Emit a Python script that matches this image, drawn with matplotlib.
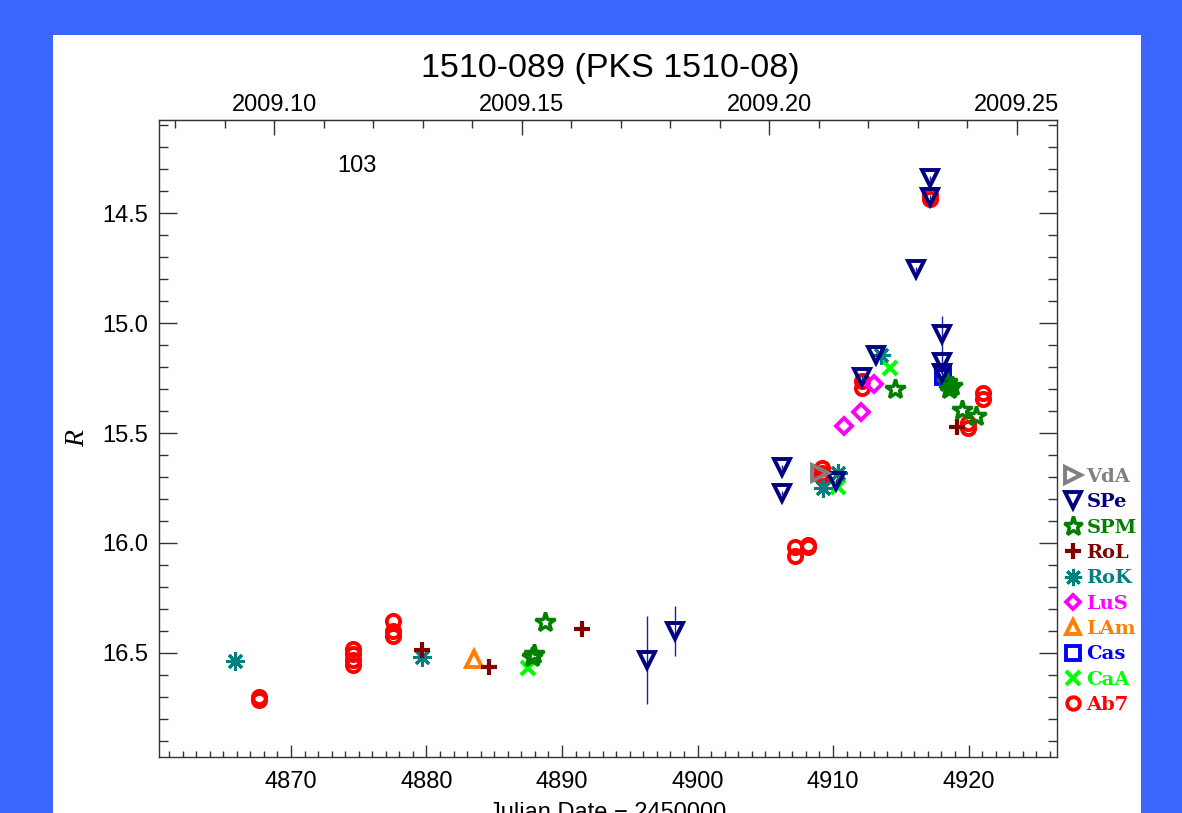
import matplotlib
matplotlib.use("Agg")
import matplotlib.pyplot as plt
from matplotlib.patches import Rectangle
from matplotlib.ticker import MultipleLocator, FixedLocator, FormatStrFormatter

# ---------------- data ----------------
vda_x = [4909.04]
vda_y = [15.68]

spe_x = [4896.27, 4898.34, 4906.24, 4906.24, 4910.22, 4912.14, 4913.17, 4916.13, 4917.16, 4917.16, 4918.04, 4918.04, 4918.04]
spe_y = [16.53, 16.40, 15.655, 15.773, 15.72, 15.245, 15.145, 14.755, 14.34, 14.427, 15.05, 15.177, 15.227]
spe_e = [0.20, 0.115, 0.01, 0.01, 0.01, 0.01, 0.01, 0.01, 0.01, 0.01, 0.08, 0.04, 0.01]

spm_x = [4887.80, 4887.95, 4888.75, 4914.58, 4918.40, 4918.75, 4918.55, 4919.52, 4920.55]
spm_y = [16.52, 16.505, 16.359, 15.30, 15.27, 15.285, 15.30, 15.395, 15.423]

rol_x = [4879.67, 4884.61, 4891.48, 4919.15]
rol_y = [16.486, 16.564, 16.39, 15.473]

rok_x = [4865.87, 4879.67, 4909.26, 4910.37, 4913.54]
rok_y = [16.536, 16.518, 15.75, 15.68, 15.145]

lus_x = [4910.81, 4912.07, 4913.03]
lus_y = [15.468, 15.405, 15.277]

lam_x = [4883.51]
lam_y = [16.527]

cas_x = [4918.12, 4918.12]
cas_y = [15.225, 15.245]

caa_x = [4887.49, 4910.37, 4914.21]
caa_y = [16.568, 15.745, 15.205]

ab7_x = [4867.64, 4867.64, 4874.58, 4874.58, 4874.58, 4874.58, 4877.53, 4877.53, 4877.53,
         4907.20, 4907.20, 4908.15, 4908.15, 4909.19, 4909.19, 4909.19,
         4917.16, 4917.16, 4912.14, 4912.14, 4921.07, 4921.07, 4919.96, 4919.96]
ab7_y = [16.70, 16.715, 16.48, 16.505, 16.53, 16.555, 16.355, 16.40, 16.425,
         16.02, 16.06, 16.01, 16.02, 15.66, 15.68, 15.70,
         14.42, 14.435, 15.265, 15.295, 15.32, 15.345, 15.455, 15.475]

year_ticks = [2009.10, 2009.15, 2009.20, 2009.25]
title = "1510-089 (PKS 1510-08)"
source_id = "103"

# ---------------- figure ----------------
W, H = 1182, 813
fig = plt.figure(figsize=(W / 100, H / 100), dpi=100)
fig.patch.set_facecolor("#3A66FF")
fig.patches.append(Rectangle((53 / W, 0), (1141 - 53) / W, (813 - 35) / H,
                             transform=fig.transFigure, facecolor="white",
                             edgecolor="none", zorder=-10))

ax_l, ax_r, ax_t, ax_b = 159, 1057, 120, 757
ax = fig.add_axes([ax_l / W, 1 - ax_b / H, (ax_r - ax_l) / W, (ax_b - ax_t) / H])
ax.set_facecolor("white")

sans = "Liberation Sans"
serif = "DejaVu Serif"
tick_fs = 17

# plot order: last legend entry first (so earlier ones lie on top)
ax.plot(ab7_x, ab7_y, ls="none", marker="o", ms=9.5, mew=2.8, mfc="none", mec="#ff0000", label="Ab7", zorder=3)
ax.plot(caa_x, caa_y, ls="none", marker="x", ms=10.5, mew=3, mec="#00ff00", label="CaA", zorder=4)
ax.plot(cas_x, cas_y, ls="none", marker="s", ms=10, mew=2.8, mfc="none", mec="#0000ff", label="Cas", zorder=5)
ax.plot(lam_x, lam_y, ls="none", marker="^", ms=11, mew=2.8, mfc="none", mec="#ff8000", label="LAm", zorder=6)
ax.plot(lus_x, lus_y, ls="none", marker="D", ms=8, mew=2.8, mfc="none", mec="#ff00ff", label="LuS", zorder=7)
ax.plot(rok_x, rok_y, ls="none", marker=(8, 2, 0), ms=13, mew=2.2, mec="#008080", label="RoK", zorder=8)
ax.plot(rol_x, rol_y, ls="none", marker="+", ms=12, mew=3, mec="#800000", label="RoL", zorder=9)
ax.plot(spm_x, spm_y, ls="none", marker="*", ms=15, mew=2.5, mfc="none", mec="#008000", label="SPM", zorder=10)
ax.errorbar(spe_x, spe_y, yerr=spe_e, ls="none", ecolor="#2020a0", elinewidth=1, capsize=0, zorder=10.5)
ax.plot(spe_x, spe_y, ls="none", marker="v", ms=11.5, mew=2.8, mfc="none", mec="#000080", label="SPe", zorder=11)
ax.plot(vda_x, vda_y, ls="none", marker=">", ms=11.5, mew=2.8, mfc="none", mec="#808080", label="VdA", zorder=12)

ax.set_xlim(4860.26, 4926.53)
ax.set_ylim(16.973, 14.077)

ax.xaxis.set_major_locator(MultipleLocator(10))
ax.xaxis.set_minor_locator(MultipleLocator(1))
ax.yaxis.set_major_locator(MultipleLocator(0.5))
ax.yaxis.set_minor_locator(MultipleLocator(0.1))
ax.yaxis.set_major_formatter(FormatStrFormatter("%.1f"))

frame_c = "#333333"
for s in ax.spines.values():
    s.set_color(frame_c)
    s.set_linewidth(1)

ax.tick_params(axis="x", which="major", direction="in", length=9, width=1, color=frame_c,
               bottom=True, top=False, labelsize=tick_fs, pad=10)
ax.tick_params(axis="x", which="minor", direction="in", length=4.5, width=1, color=frame_c,
               bottom=True, top=False)
ax.tick_params(axis="y", which="major", direction="in", length=13, width=1, color=frame_c,
               left=True, right=True, labelsize=tick_fs, pad=8)
ax.tick_params(axis="y", which="minor", direction="in", length=6.5, width=1, color=frame_c,
               left=True, right=True)
for lab in ax.get_xticklabels() + ax.get_yticklabels():
    lab.set_fontfamily(sans)

# top axis in decimal years (J2000 based)
def jd2yr(x):
    return 2000.0 + (x + 2450000.0 - 2451545.0) / 365.25

def yr2jd(y):
    return (y - 2000.0) * 365.25 + 2451545.0 - 2450000.0

sec = ax.secondary_xaxis("top", functions=(jd2yr, yr2jd))
sec.xaxis.set_major_locator(FixedLocator(year_ticks))
sec.xaxis.set_minor_locator(MultipleLocator(0.01))
sec.xaxis.set_major_formatter(FormatStrFormatter("%.2f"))
sec.tick_params(axis="x", which="major", direction="in", length=11, width=1, color=frame_c,
                labelsize=tick_fs, pad=3)
sec.tick_params(axis="x", which="minor", direction="in", length=5.5, width=1, color=frame_c)
sec.spines["top"].set_color(frame_c)
for lab in sec.get_xticklabels():
    lab.set_fontfamily(sans)

ax.set_xlabel("Julian Date \u2212 2450000", fontsize=tick_fs, family=sans)
ax.xaxis.set_label_coords(0.5, -(802 - ax_b) / (ax_b - ax_t))
ax.set_ylabel("R", fontsize=20, family="Liberation Serif", style="italic")
ax.yaxis.set_label_coords(-(ax_l - 90) / (ax_r - ax_l), 0.5)

fig.text((ax_l + ax_r) / 2 / W + 2 / W, 1 - 69 / H, title, ha="center", va="center",
         fontsize=24.5, family=sans)
ax.text((357 - ax_l) / (ax_r - ax_l), (ax_b - 166) / (ax_b - ax_t), source_id,
        transform=ax.transAxes, ha="center", va="center", fontsize=tick_fs, family=sans)

handles, labels = ax.get_legend_handles_labels()
order = ["VdA", "SPe", "SPM", "RoL", "RoK", "LuS", "LAm", "Cas", "CaA", "Ab7"]
hmap = dict(zip(labels, handles))
leg = ax.legend([hmap[k] for k in order], order, loc="center left",
                bbox_to_anchor=(1.009, (ax_b - 591) / (ax_b - ax_t)),
                frameon=False, handlelength=0.8, handletextpad=0.3,
                labelspacing=0.38, borderaxespad=0, borderpad=0,
                prop={"family": serif, "weight": "bold", "size": 14},
                labelcolor="markeredgecolor", markerscale=0.95)

fig.savefig("out.png", dpi=100, facecolor=fig.get_facecolor())
